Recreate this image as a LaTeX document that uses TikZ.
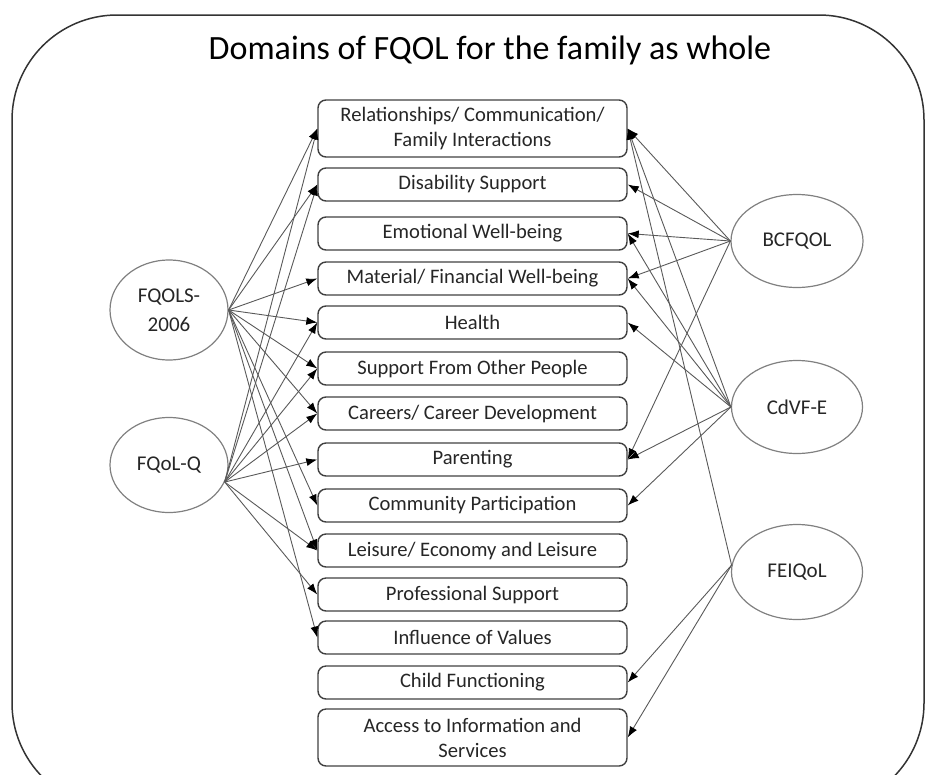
\documentclass[tikz,border=0pt]{standalone}
\usepackage{fontspec}
\setmainfont{Carlito}
\usetikzlibrary{arrows.meta,positioning,calc,shapes.geometric}

\begin{document}
\begin{tikzpicture}[x=1pt, y=-1pt,
    domainbox/.style={draw=black!75, line width=1.4pt, rounded corners=8pt,
        minimum width=309pt, align=center, text=black!85, inner sep=2pt,
        font=\fontsize{20.6}{25}\selectfont},
    instr/.style={ellipse, draw=black!50, line width=1.2pt, align=center,
        text=black!85, inner sep=0pt, font=\fontsize{21}{29}\selectfont},
    arrowline/.style={draw=black!65, line width=0.9pt,
        -{Latex[length=11pt,width=8pt,black]}}]
        \useasboundingbox (0,0) rectangle (936,774);
        \clip (0,0) rectangle (936,774);
        % Frame
        \draw [black!80, line width=1.5pt, rounded corners=105pt]
            (12,15) rectangle (924,808);
        \node (title) at (490,50) {\fontsize{34}{40}\selectfont Domains of FQOL for the family as whole};
        % Domains
        \foreach \n/\y/\h/\t in {1/128.5/57/{Relationships/ Communication/\\Family Interactions},
            2/184.5/33/{Disability Support}, 3/233.5/33/{Emotional Well-being},
            4/278.5/33/{Material/ Financial Well-being}, 5/322.5/33/{Health},
            6/368.5/33/{Support From Other People}, 7/413.5/33/{Careers/ Career Development},
            8/459.5/33/{Parenting}, 9/505.5/33/{Community Participation},
            10/550.5/33/{Leisure/ Economy and Leisure}, 11/594.5/33/{Professional Support},
            12/637.5/33/{Influence of Values}, 13/682.5/33/{Child Functioning},
            14/737.5/57/{Access to Information and\\Services}}
        {
        \node [domainbox, minimum height=\h pt] (d\n) at (472.5,\y) {\t};
        }
        % Instruments
        \node [instr, minimum width=118pt, minimum height=100pt] (fqols) at (169,310) {FQOLS-\\2006};
        \node [instr, minimum width=118pt, minimum height=95pt] (fqolq) at (169,465) {FQoL-Q};
        \node [instr, minimum width=132pt, minimum height=93pt] (bcfqol) at (797,241) {BCFQOL};
        \node [instr, minimum width=131pt, minimum height=93pt] (cdvfe) at (797,407) {CdVF-E};
        \node [instr, minimum width=131pt, minimum height=95pt] (feiqol) at (797,572) {FEIQoL};
        % Arrows, left
        \foreach \i in {1,2,4,5,6,7,9,10,12}
            \draw [arrowline] (fqols.east) -- (d\i.west);
        \foreach \i in {1,2,5,6,7,8,10,11}
            \draw [arrowline] (fqolq.-17) -- (d\i.west);
        % Arrows, right
        \foreach \i in {1,2,3,4,8}
            \draw [arrowline] (bcfqol.west) -- (d\i.east);
        \foreach \i in {1,3,4,5,8,9}
            \draw [arrowline] (cdvfe.west) -- (d\i.east);
        \foreach \i in {1,13,14}
            \draw [arrowline] (feiqol.174) -- (d\i.east);
\end{tikzpicture}
\end{document}
